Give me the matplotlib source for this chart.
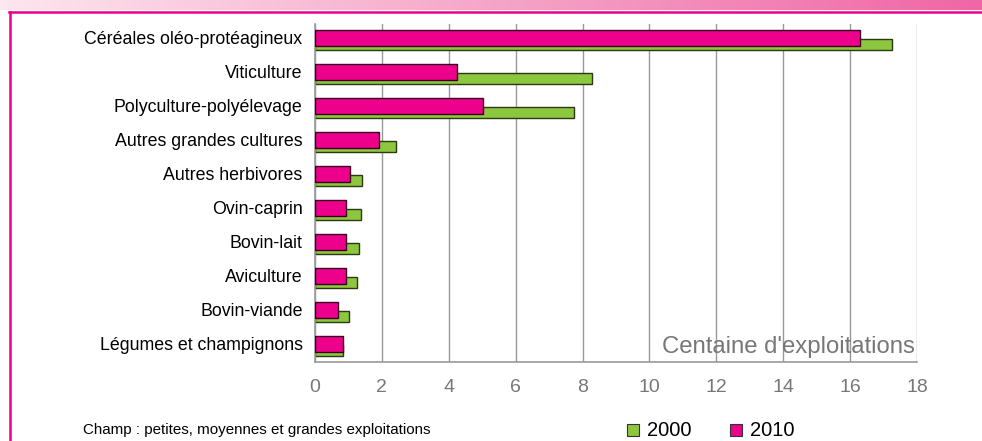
import numpy as np
import matplotlib.pyplot as plt
from matplotlib.colors import LinearSegmentedColormap

# donnees (centaines d'exploitations)
categories = ["Céréales oléo-protéagineux", "Viticulture", "Polyculture-polyélevage",
              "Autres grandes cultures", "Autres herbivores", "Ovin-caprin",
              "Bovin-lait", "Aviculture", "Bovin-viande", "Légumes et champignons"]
val_2000 = [17.25, 8.27, 7.75, 2.43, 1.40, 1.37, 1.31, 1.27, 1.03, 0.85]
val_2010 = [16.3, 4.25, 5.02, 1.92, 1.04, 0.94, 0.94, 0.94, 0.70, 0.85]
xticks = [0, 2, 4, 6, 8, 10, 12, 14, 16, 18]

pink = "#ec008c"
green = "#8dc63f"
font = ["Liberation Sans", "DejaVu Sans"]

fig = plt.figure(figsize=(9.82, 4.41), dpi=100, facecolor="white")

# bandeau degrade en haut
band = fig.add_axes([0, 1 - 10 / 441, 1, 10 / 441])
cmap = LinearSegmentedColormap.from_list("band", ["#fde6ef", "#f5a6c8", "#f066a6"])
band.imshow(np.linspace(0, 1, 256).reshape(1, -1), aspect="auto", cmap=cmap)
band.axis("off")

# cadre rose
fig.add_artist(plt.Line2D([9 / 982, 1], [1 - 12 / 441, 1 - 12 / 441], color=pink, lw=1.8,
                          transform=fig.transFigure))
fig.add_artist(plt.Line2D([9.5 / 982, 9.5 / 982], [0, 1 - 12 / 441], color=pink, lw=1.8,
                          transform=fig.transFigure))

ax = fig.add_axes([315 / 982, 1 - 362 / 441, 602 / 982, 338 / 441])
y = np.arange(len(categories))
ax.barh(y + 0.19, val_2000, height=0.32, color=green, edgecolor="#2a3a10", lw=1, zorder=2)
ax.barh(y, val_2010, height=0.48, color=pink, edgecolor="#3a0020", lw=1, zorder=3)

ax.set_xlim(0, 18)
ax.set_ylim(9.53, -0.41)
ax.set_xticks(xticks)
ax.set_xticklabels([str(t) for t in xticks], family=font, fontsize=14, color="#777777")
ax.set_yticks(y)
ax.set_yticklabels(categories, family=font, fontsize=12.8, color="black")
ax.tick_params(axis="both", length=0)
ax.tick_params(axis="x", pad=12)
ax.tick_params(axis="y", pad=9)
ax.grid(axis="x", color="#999999", lw=1, zorder=1)
for s in ["top", "right"]:
    ax.spines[s].set_visible(False)
ax.spines["left"].set_color("#999999")
ax.spines["bottom"].set_color("#999999")
ax.spines["left"].set_linewidth(1.2)
ax.spines["bottom"].set_linewidth(1.2)

ax.text(17.95, 9.08, "Centaine d'exploitations", ha="right", va="center",
        family=font, fontsize=17.2, color="#777777", zorder=4)

# note et legende
fig.text(83 / 982, 1 - 430 / 441, "Champ : petites, moyennes et grandes exploitations",
         family=font, fontsize=10.9, va="center", ha="left")
for xs, c, lab in [(627, green, "2000"), (730, pink, "2010")]:
    fig.patches.append(plt.Rectangle((xs / 982, 1 - 436 / 441), 12 / 982, 12 / 441,
                                     transform=fig.transFigure, facecolor=c,
                                     edgecolor="#333333", lw=0.8))
    fig.text((xs + 20) / 982, 1 - 430 / 441, lab, family=font, fontsize=14.5,
             va="center", ha="left")

fig.savefig("out.png", dpi=100)
